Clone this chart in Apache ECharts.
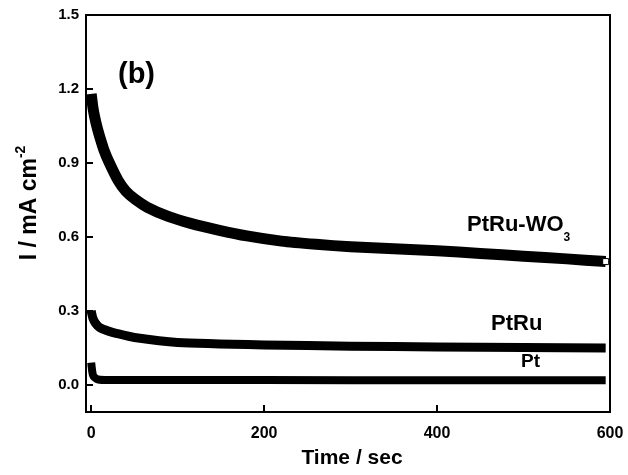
<!DOCTYPE html>
<html>
<head>
<meta charset="utf-8">
<script src="https://cdn.jsdelivr.net/npm/echarts@6/dist/echarts.min.js"></script>
<style>
  html, body { margin: 0; padding: 0; background: #fff; }
  #chart { width: 628px; height: 475px; }
</style>
</head>
<body>
<div id="chart"></div>
<script>
// time (s) and current density (mA cm-2)
const timeWO3 = [0, 2, 4, 7, 10, 15, 21, 31, 40, 51, 65, 89, 115, 147, 180, 220, 260, 300, 350, 400, 450, 500, 550, 595]
const curWO3 = [1.18, 1.125, 1.087, 1.042, 1.005, 0.95, 0.9, 0.83, 0.786, 0.752, 0.72, 0.683, 0.655, 0.628, 0.604, 0.583, 0.57, 0.56, 0.552, 0.544, 0.533, 0.522, 0.511, 0.5]

const timePtRu = [0, 2, 5, 10, 20, 30, 50, 100, 200, 300, 400, 500, 595]
const curPtRu = [0.3, 0.27, 0.25, 0.232, 0.218, 0.208, 0.192, 0.172, 0.162, 0.157, 0.154, 0.152, 0.15]

const timePt = [0, 1, 2, 4, 8, 20, 100, 300, 595]
const curPt = [0.09, 0.06, 0.04, 0.03, 0.022, 0.02, 0.02, 0.019, 0.019]

const xTicks = [0, 200, 400, 600]
const yTicks = [0, 0.3, 0.6, 0.9, 1.2, 1.5]

const font = 'Liberation Sans, Arial, sans-serif'

function pairs (xs, ys) {
  return xs.map((x, i) => [x, ys[i]])
}

const wo3Data = pairs(timeWO3, curWO3)
// little open square at the end of the PtRu-WO3 trace
wo3Data[wo3Data.length - 1] = {
  value: wo3Data[wo3Data.length - 1],
  symbol: 'rect',
  symbolSize: 6,
  itemStyle: { color: '#fff', borderColor: '#000', borderWidth: 1 }
}

const lineSeries = (data, width) => ({
  type: 'line',
  data: data,
  smooth: 0.2,
  symbol: 'none',
  showSymbol: true,
  lineStyle: { color: '#000', width: width, cap: 'butt', join: 'round' },
  silent: true,
  animation: false
})

const myChart = echarts.init(document.getElementById('chart'), null, { renderer: 'canvas' })

myChart.setOption({
  backgroundColor: '#fff',
  animation: false,
  grid: {
    left: 86,
    right: 18,
    top: 15,
    bottom: 63,
    show: true,
    borderColor: '#000',
    borderWidth: 2
  },
  xAxis: {
    type: 'value',
    min: -6,
    max: 600,
    axisLine: { show: true, onZero: false, lineStyle: { color: '#000', width: 2 } },
    axisTick: { show: true, inside: true, length: 7, customValues: xTicks, lineStyle: { color: '#000', width: 2 } },
    axisLabel: {
      customValues: xTicks,
      margin: 14,
      color: '#000',
      fontFamily: font,
      fontWeight: 'bold',
      fontSize: 16
    },
    splitLine: { show: false }
  },
  yAxis: {
    type: 'value',
    min: -0.11,
    max: 1.5,
    axisLine: { show: true, onZero: false, lineStyle: { color: '#000', width: 2 } },
    axisTick: { show: true, inside: true, length: 7, customValues: yTicks, lineStyle: { color: '#000', width: 2 } },
    axisLabel: {
      customValues: yTicks,
      margin: 7,
      color: '#000',
      fontFamily: font,
      fontWeight: 'bold',
      fontSize: 15,
      formatter: v => v.toFixed(1)
    },
    splitLine: { show: false }
  },
  graphic: [
    {
      type: 'text',
      left: 118,
      top: 60,
      style: { text: '(b)', fill: '#000', font: 'bold 29px ' + font }
    },
    {
      type: 'text',
      x: 352,
      y: 458,
      style: { text: 'Time / sec', fill: '#000', font: 'bold 21px ' + font, align: 'center', verticalAlign: 'middle' }
    },
    {
      type: 'text',
      x: 28,
      y: 203,
      rotation: Math.PI / 2,
      style: {
        text: '{a|I / mA cm}{s|-2}',
        fill: '#000',
        align: 'center',
        verticalAlign: 'middle',
        rich: {
          a: { font: 'bold 23px ' + font, fill: '#000', lineHeight: 27, verticalAlign: 'bottom' },
          s: { font: 'bold 14px ' + font, fill: '#000', lineHeight: 27, verticalAlign: 'top' }
        }
      }
    },
    {
      type: 'text',
      left: 467,
      top: 214,
      style: {
        text: '{a|PtRu-WO}{s|3}',
        rich: {
          a: { font: 'bold 22px ' + font, fill: '#000', lineHeight: 26, verticalAlign: 'top' },
          s: { font: 'bold 12px ' + font, fill: '#000', lineHeight: 30, verticalAlign: 'bottom' }
        }
      }
    },
    {
      type: 'text',
      left: 491,
      top: 313,
      style: { text: 'PtRu', fill: '#000', font: 'bold 22px ' + font }
    },
    {
      type: 'text',
      left: 521,
      top: 352,
      style: { text: 'Pt', fill: '#000', font: 'bold 19px ' + font }
    }
  ],
  series: [
    lineSeries(wo3Data, 11),
    lineSeries(pairs(timePtRu, curPtRu), 9),
    lineSeries(pairs(timePt, curPt), 8)
  ]
})
</script>
</body>
</html>
